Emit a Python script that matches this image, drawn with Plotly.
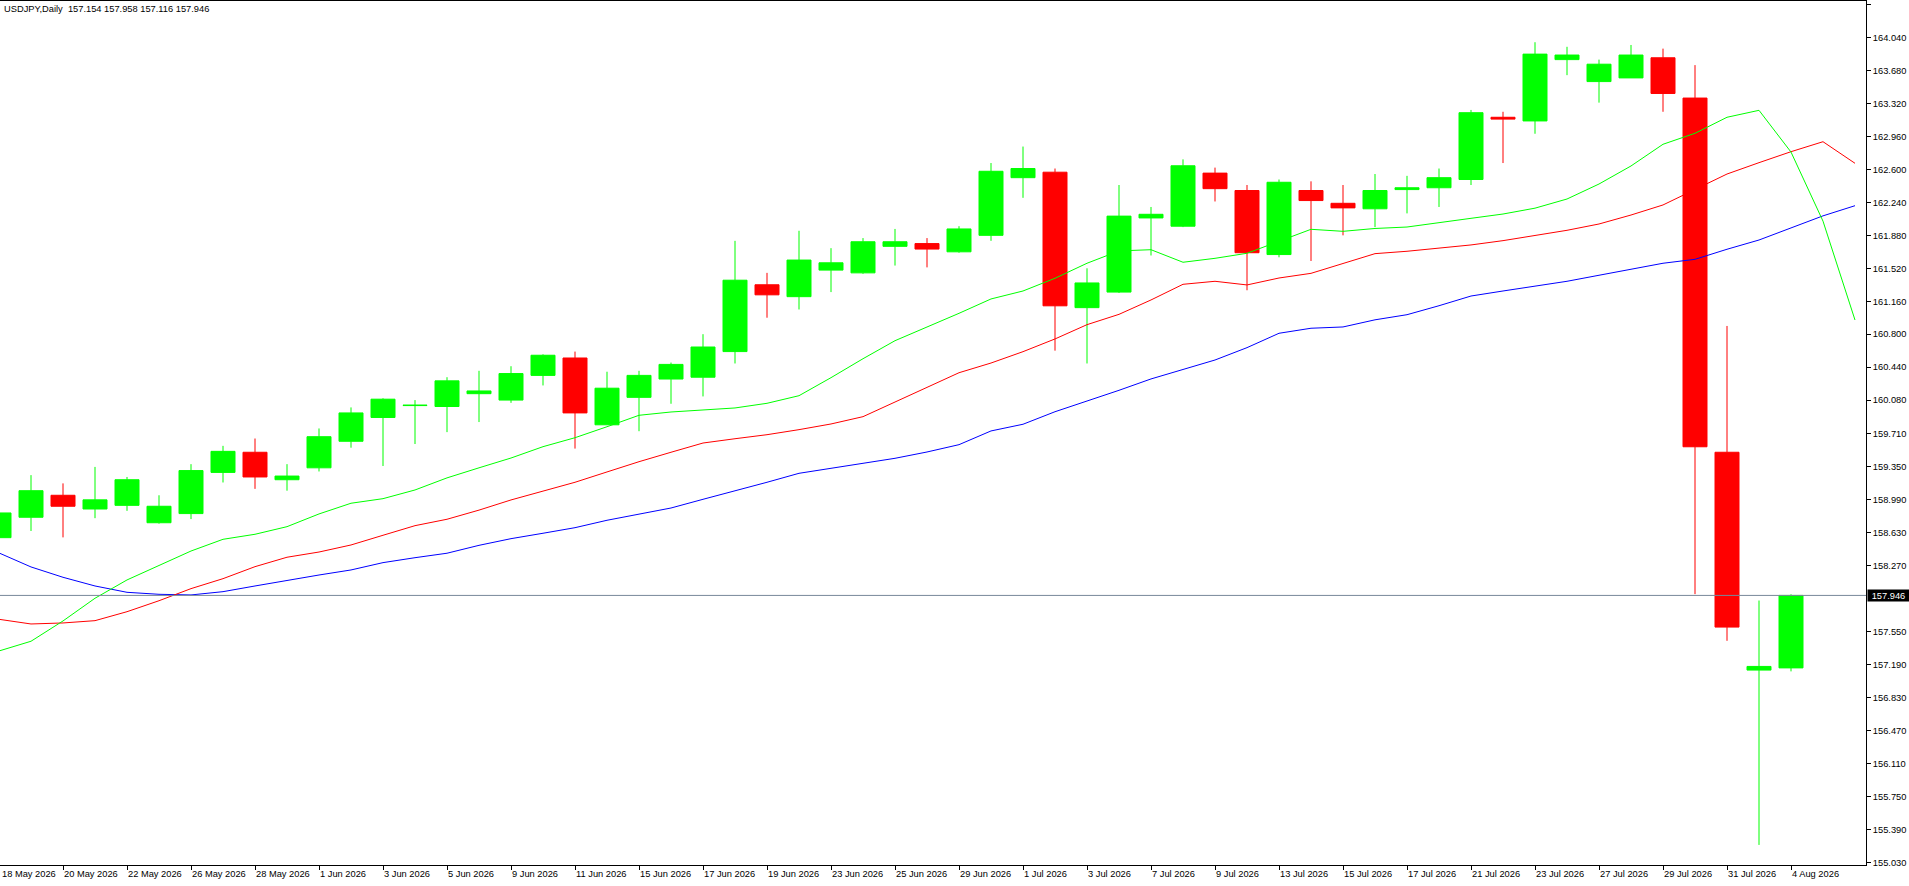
import plotly.graph_objects as go

# ---------------- data ----------------
dates = [
    "18 May 2026", "19 May 2026", "20 May 2026", "21 May 2026", "22 May 2026",
    "25 May 2026", "26 May 2026", "27 May 2026", "28 May 2026", "29 May 2026",
    "1 Jun 2026", "2 Jun 2026", "3 Jun 2026", "4 Jun 2026", "5 Jun 2026",
    "8 Jun 2026", "9 Jun 2026", "10 Jun 2026", "11 Jun 2026", "12 Jun 2026",
    "15 Jun 2026", "16 Jun 2026", "17 Jun 2026", "18 Jun 2026", "19 Jun 2026",
    "22 Jun 2026", "23 Jun 2026", "24 Jun 2026", "25 Jun 2026", "26 Jun 2026",
    "29 Jun 2026", "30 Jun 2026", "1 Jul 2026", "2 Jul 2026", "3 Jul 2026",
    "6 Jul 2026", "7 Jul 2026", "8 Jul 2026", "9 Jul 2026", "10 Jul 2026",
    "13 Jul 2026", "14 Jul 2026", "15 Jul 2026", "16 Jul 2026", "17 Jul 2026",
    "20 Jul 2026", "21 Jul 2026", "22 Jul 2026", "23 Jul 2026", "24 Jul 2026",
    "27 Jul 2026", "28 Jul 2026", "29 Jul 2026", "30 Jul 2026", "31 Jul 2026",
    "3 Aug 2026", "4 Aug 2026",
]

open_ = [
    158.577, 158.80, 159.04, 158.89, 158.93, 158.74, 158.84, 159.29, 159.51, 159.21,
    159.34, 159.63, 159.89, 160.020, 160.01, 160.15, 160.08, 160.35, 160.54, 159.81,
    160.11, 160.31, 160.33, 160.61, 161.34, 161.21, 161.50, 161.47, 161.76, 161.79,
    161.70, 161.88, 162.51, 162.57, 161.09, 161.26, 162.07, 161.98, 162.56, 162.37,
    161.67, 162.37, 162.23, 162.17, 162.38, 162.40, 162.49, 163.17, 163.13, 163.80,
    163.56, 163.60, 163.82, 163.38, 159.51, 157.13, 157.154,
]
high = [
    158.90, 159.26, 159.17, 159.35, 159.24, 159.04, 159.38, 159.58, 159.66, 159.38,
    159.77, 160.00, 160.10, 160.08, 160.33, 160.40, 160.45, 160.58, 160.61, 160.39,
    160.40, 160.49, 160.80, 161.82, 161.47, 161.93, 161.74, 161.85, 161.95, 161.85,
    161.98, 162.67, 162.85, 162.61, 161.52, 162.43, 162.19, 162.71, 162.62, 162.43,
    162.49, 162.47, 162.43, 162.55, 162.53, 162.61, 163.25, 163.23, 163.99, 163.94,
    163.80, 163.96, 163.92, 163.74, 160.89, 157.89, 157.958,
]
low = [
    158.55, 158.65, 158.58, 158.79, 158.87, 158.73, 158.78, 159.18, 159.11, 159.09,
    159.30, 159.56, 159.36, 159.60, 159.73, 159.84, 160.05, 160.24, 159.55, 159.81,
    159.74, 160.04, 160.12, 160.48, 160.98, 161.07, 161.26, 161.46, 161.55, 161.53,
    161.69, 161.82, 162.29, 160.62, 160.48, 161.25, 161.66, 161.97, 162.25, 161.28,
    161.64, 161.60, 161.88, 161.97, 162.12, 162.19, 162.43, 162.67, 162.99, 163.63,
    163.33, 163.60, 163.23, 157.96, 157.45, 155.22, 157.116,
]
close = [
    158.847, 159.09, 158.92, 158.99, 159.21, 158.92, 159.31, 159.52, 159.24, 159.25,
    159.68, 159.94, 160.09, 160.024, 160.29, 160.18, 160.37, 160.57, 159.94, 160.21,
    160.35, 160.47, 160.66, 161.39, 161.23, 161.61, 161.58, 161.81, 161.81, 161.73,
    161.95, 162.58, 162.61, 161.11, 161.36, 162.09, 162.11, 162.64, 162.39, 161.69,
    162.46, 162.26, 162.18, 162.37, 162.40, 162.51, 163.22, 163.15, 163.86, 163.85,
    163.75, 163.85, 163.43, 159.57, 157.60, 157.17, 157.946,
]

# Alligator-style shifted averages (run two bars past the last candle)
lips_green = [
    157.339, 157.445, 157.667, 157.915, 158.115, 158.271, 158.431, 158.559, 158.614, 158.697,
    158.836, 158.953, 159.003, 159.098, 159.230, 159.340, 159.447, 159.571, 159.669, 159.789,
    159.914, 159.950, 159.975, 159.994, 160.045, 160.128, 160.325, 160.532, 160.729, 160.875,
    161.028, 161.185, 161.272, 161.411, 161.575, 161.710, 161.723, 161.586, 161.629, 161.684,
    161.811, 161.946, 161.924, 161.955, 161.971, 162.015, 162.066, 162.113, 162.177, 162.277,
    162.441, 162.638, 162.875, 162.995, 163.170, 163.246, 162.790, 162.035, 160.955,
]
teeth_red = [
    157.685, 157.634, 157.645, 157.670, 157.768, 157.888, 158.020, 158.129, 158.260, 158.363,
    158.420, 158.497, 158.603, 158.708, 158.778, 158.878, 158.989, 159.087, 159.182, 159.295,
    159.407, 159.510, 159.611, 159.658, 159.702, 159.757, 159.819, 159.899, 160.059, 160.220,
    160.379, 160.485, 160.609, 160.748, 160.904, 161.017, 161.174, 161.345, 161.378, 161.338,
    161.414, 161.465, 161.575, 161.680, 161.706, 161.739, 161.775, 161.822, 161.877, 161.935,
    162.004, 162.102, 162.212, 162.383, 162.550, 162.674, 162.794, 162.903, 162.667,
]
jaw_blue = [
    158.410, 158.257, 158.144, 158.049, 157.980, 157.958, 157.951, 157.987, 158.049, 158.111,
    158.169, 158.224, 158.304, 158.358, 158.407, 158.493, 158.566, 158.625, 158.686, 158.767,
    158.832, 158.901, 158.996, 159.087, 159.182, 159.280, 159.335, 159.390, 159.444, 159.513,
    159.593, 159.743, 159.816, 159.953, 160.067, 160.187, 160.311, 160.417, 160.518, 160.653,
    160.810, 160.865, 160.879, 160.957, 161.013, 161.111, 161.217, 161.272, 161.327, 161.378,
    161.444, 161.509, 161.575, 161.618, 161.728, 161.829, 161.960, 162.093, 162.204,
]

tick_labels = [
    "18 May 2026", "20 May 2026", "22 May 2026", "26 May 2026", "28 May 2026",
    "1 Jun 2026", "3 Jun 2026", "5 Jun 2026", "9 Jun 2026", "11 Jun 2026",
    "15 Jun 2026", "17 Jun 2026", "19 Jun 2026", "23 Jun 2026", "25 Jun 2026",
    "29 Jun 2026", "1 Jul 2026", "3 Jul 2026", "7 Jul 2026", "9 Jul 2026",
    "13 Jul 2026", "15 Jul 2026", "17 Jul 2026", "21 Jul 2026", "23 Jul 2026",
    "27 Jul 2026", "29 Jul 2026", "31 Jul 2026", "4 Aug 2026",
]
price_ticks = [
    164.400, 164.040, 163.680, 163.320, 162.960, 162.600, 162.240, 161.880,
    161.520, 161.160, 160.800, 160.440, 160.080, 159.710, 159.350, 158.990,
    158.630, 158.270, 157.550, 157.190, 156.830, 156.470, 156.110, 155.750,
    155.390, 155.030,
]
symbol = "USDJPY,Daily"
last_price = 157.946

# ---------------- figure ----------------
W, H = 1909, 886
FONT = "Liberation Sans, Arial, sans-serif"
FS = 9.3

bar_x = list(range(len(dates)))
ma_x = list(range(len(lips_green)))

fig = go.Figure()
for vals, col in ((jaw_blue, "#0000FF"), (teeth_red, "#FF0000"), (lips_green, "#00FF00")):
    fig.add_trace(go.Scatter(x=ma_x, y=vals, mode="lines",
                             line=dict(color=col, width=1), hoverinfo="skip"))

fig.add_trace(go.Candlestick(
    x=bar_x, open=open_, high=high, low=low, close=close,
    increasing=dict(line=dict(color="#00FF00", width=1), fillcolor="#00FF00"),
    decreasing=dict(line=dict(color="#FF0000", width=1), fillcolor="#FF0000"),
    whiskerwidth=0, hoverinfo="skip",
))

fig.add_shape(type="line", xref="paper", x0=0, x1=1, yref="y",
              y0=last_price, y1=last_price,
              line=dict(color="#778899", width=1), layer="above")

header = f"{symbol}\u00a0 {open_[-1]:.3f} {high[-1]:.3f} {low[-1]:.3f} {close[-1]:.3f}"
fig.add_annotation(text=header, xref="paper", yref="paper", x=0, y=1,
                   xanchor="left", yanchor="top", xshift=2, yshift=-1,
                   showarrow=False, font=dict(family=FONT, size=FS, color="black"))
fig.add_annotation(text=f"{last_price:.3f}", xref="paper", yref="y", x=1, y=last_price,
                   xanchor="left", yanchor="middle", xshift=1,
                   showarrow=False, bgcolor="black", borderpad=2, width=37, height=7,
                   font=dict(family=FONT, size=FS, color="white"))
# first date label: its tick sits just left of the visible plot area
fig.add_annotation(text=tick_labels[0], xref="paper", yref="paper", x=0, y=0,
                   xanchor="left", yanchor="top", xshift=1, yshift=-3, borderpad=0,
                   showarrow=False, font=dict(family=FONT, size=FS, color="black"))

fig.update_layout(
    width=W, height=H,
    margin=dict(l=0, r=43, t=1, b=21, pad=0),
    paper_bgcolor="white", plot_bgcolor="white",
    showlegend=False, hovermode=False,
    boxgap=0.25, boxgroupgap=0,
    font=dict(family=FONT, size=FS, color="black"),
    xaxis=dict(
        type="linear", range=[1 / 32, 1867 / 32],
        tickvals=bar_x[::2], ticktext=tick_labels,
        ticks="outside", ticklen=4, tickwidth=1, tickcolor="black",
        ticklabelposition="outside right",
        showline=True, linecolor="black", linewidth=1, mirror=True,
        showgrid=False, zeroline=False,
        rangeslider=dict(visible=False),
        tickfont=dict(family=FONT, size=FS, color="black"),
    ),
    yaxis=dict(
        side="right", range=[155.0005, 164.4404],
        tickvals=price_ticks, ticktext=[f"{v:.3f}" for v in price_ticks],
        ticks="outside", ticklen=4, tickwidth=1, tickcolor="black",
        showline=True, linecolor="black", linewidth=1,
        showgrid=False, zeroline=False,
        tickfont=dict(family=FONT, size=FS, color="black"),
    ),
)

fig.write_html("out.html", config={"displayModeBar": False},
               post_script="document.body.style.margin='0';document.body.style.overflow='hidden';")
